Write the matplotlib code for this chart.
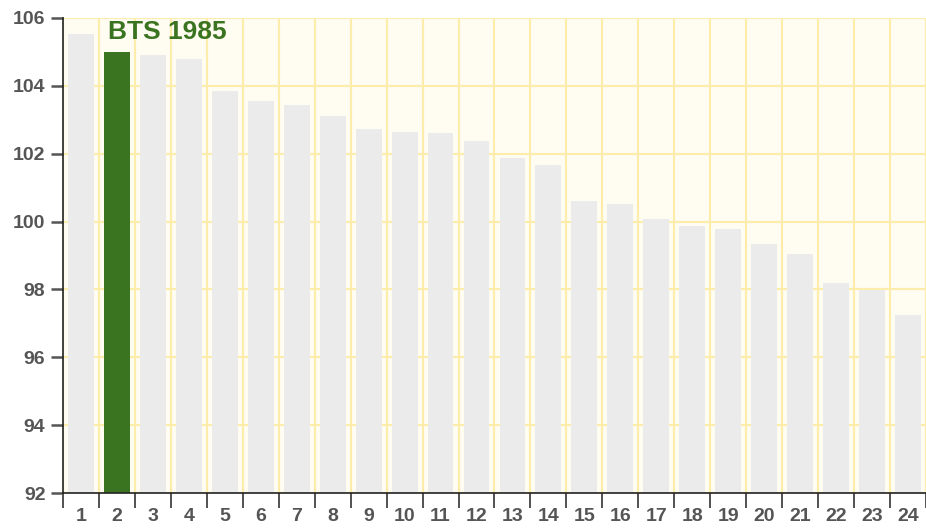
import numpy as np
import matplotlib.pyplot as plt

plt.rcParams['font.family'] = ['Liberation Sans', 'DejaVu Sans']

# 순위와 값
ranks = [str(i) for i in range(1, 25)]
values = [105.53, 105.0, 104.91, 104.79, 103.85, 103.55, 103.44, 103.11,
          102.73, 102.64, 102.61, 102.37, 101.87, 101.67, 100.61, 100.52,
          100.08, 99.87, 99.78, 99.34, 99.04, 98.19, 97.98, 97.25]
highlight = 1  # BTS 1985
label = "BTS 1985"

grey = "#ebebeb"
green = "#3b7420"
text_col = "#555555"
grid_col = "#fdedab"

fig = plt.figure(figsize=(9.26, 5.28), dpi=100)
ax = fig.add_axes([0.068, 0.066, 0.932, 0.9])
ax.set_facecolor("#fffcf2")

x = np.arange(len(values))
colors = [green if i == highlight else grey for i in x]
ax.bar(x, values, width=0.72, color=colors, zorder=2)

ax.set_xlim(-0.5, len(values) - 0.5)
ax.set_ylim(92, 106)

# 축 눈금
ax.set_yticks(np.arange(92, 107, 2))
ax.set_xticks(x)
ax.set_xticklabels(ranks)
ax.set_xticks(np.arange(-0.5, len(values)), minor=True)
ax.tick_params(axis='x', which='major', length=0, pad=11, labelsize=14, labelcolor=text_col)
ax.tick_params(axis='x', which='minor', length=10.8, width=1.2, color='#333333')
ax.tick_params(axis='y', length=8.6, width=1.8, color='#555555', labelsize=14, labelcolor=text_col, pad=4)
for t in ax.get_xticklabels() + ax.get_yticklabels():
    t.set_fontweight('bold')

ax.grid(True, axis='y', which='major', color=grid_col, linewidth=1.5, zorder=0)
ax.grid(True, axis='x', which='minor', color=grid_col, linewidth=1.5, zorder=0)
ax.grid(False, axis='x', which='major')
ax.set_axisbelow(True)

for s in ['top', 'right']:
    ax.spines[s].set_visible(False)
ax.spines['left'].set_color('#222222')
ax.spines['bottom'].set_color('#222222')
ax.spines['left'].set_linewidth(1.2)
ax.spines['bottom'].set_linewidth(1.2)

ax.annotate(label, xy=(highlight - 0.36, values[highlight]), xytext=(3, 6),
            textcoords='offset points', ha='left', va='bottom',
            fontsize=19, fontweight='bold', color=green)

fig.savefig("out.png", dpi=100)
